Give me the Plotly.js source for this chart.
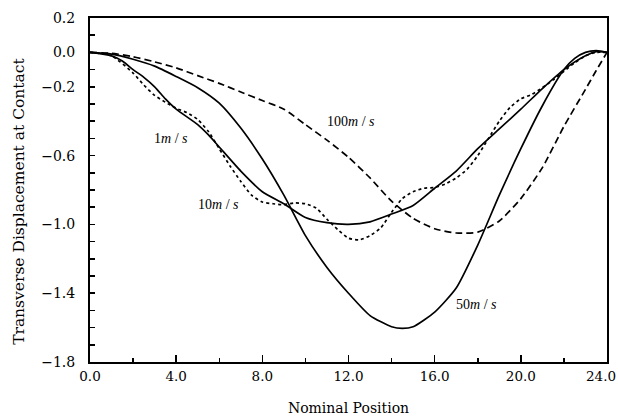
<!DOCTYPE html>
<html>
<head>
<meta charset="utf-8">
<script src="https://cdn.plot.ly/plotly-3.0.1.min.js"></script>
<style>html,body{margin:0;padding:0;background:#fff;}#chart{width:618px;height:420px;}</style>
</head>
<body>
<div id="chart"></div>
<script>
// 1 m/s (solid)
var x1 = [0, 1, 1.5, 2, 2.5, 3, 3.5, 4, 5, 5.5, 6, 7, 8, 9, 10, 11, 12, 13, 14, 15, 16, 17, 18, 19, 20, 21, 22, 23, 23.5, 24];
var y1 = [0, -0.02, -0.05, -0.10, -0.145, -0.20, -0.27, -0.33, -0.42, -0.48, -0.55, -0.69, -0.81, -0.88, -0.96, -0.99, -1.0, -0.985, -0.94, -0.89, -0.79, -0.69, -0.56, -0.445, -0.33, -0.21, -0.10, -0.02, 0.005, 0];
// 10 m/s (dotted)
var x10 = [0, 1, 2, 2.5, 3, 3.5, 4, 4.5, 5, 5.5, 6, 6.5, 7, 7.5, 8, 8.5, 9, 9.5, 10, 10.5, 11, 11.5, 12, 12.5, 13, 13.5, 14, 14.5, 15, 15.5, 16, 16.5, 17, 17.5, 18, 18.5, 19, 19.5, 20, 20.5, 21, 21.5, 22, 22.5, 23, 23.5, 24];
var y10 = [0, -0.02, -0.12, -0.19, -0.25, -0.29, -0.325, -0.35, -0.39, -0.46, -0.56, -0.66, -0.75, -0.83, -0.87, -0.88, -0.885, -0.875, -0.88, -0.905, -0.97, -1.03, -1.08, -1.09, -1.065, -1.02, -0.93, -0.85, -0.81, -0.79, -0.785, -0.765, -0.73, -0.68, -0.60, -0.50, -0.40, -0.32, -0.27, -0.245, -0.205, -0.16, -0.11, -0.06, -0.02, 0, 0];
// 50 m/s (solid)
var x50 = [0, 1, 2, 3, 4, 5, 6, 7, 8, 9, 10, 11, 12, 13, 14, 14.5, 15, 16, 17, 18, 19, 20, 21, 22, 22.5, 23, 23.5, 24];
var y50 = [0, -0.01, -0.04, -0.08, -0.14, -0.205, -0.295, -0.44, -0.62, -0.83, -1.065, -1.25, -1.40, -1.53, -1.595, -1.605, -1.595, -1.51, -1.37, -1.12, -0.83, -0.56, -0.31, -0.10, -0.035, 0.0, 0.01, 0];
// 100 m/s (dashed)
var x100 = [0, 1, 2, 3, 4, 5, 6, 7, 8, 9, 10, 11, 12, 13, 14, 15, 16, 17, 18, 19, 20, 21, 22, 23, 23.5, 24];
var y100 = [0, -0.005, -0.025, -0.055, -0.09, -0.135, -0.18, -0.23, -0.28, -0.33, -0.42, -0.51, -0.61, -0.73, -0.865, -0.965, -1.025, -1.05, -1.045, -0.98, -0.85, -0.67, -0.43, -0.215, -0.105, 0];

var yTickVals = [0.2, 0.1, 0.0, -0.1, -0.2, -0.3, -0.4, -0.5, -0.6, -0.7, -0.8, -0.9, -1.0, -1.1, -1.2, -1.3, -1.4, -1.5, -1.6, -1.7, -1.8];
var yTickText = ['0.2', '', '0.0', '', '\u22120.2', '', '', '', '\u22120.6', '', '', '', '\u22121.0', '', '', '', '\u22121.4', '', '', '', '\u22121.8'];
var xTickVals = [0, 4, 8, 12, 16, 20, 24];
var xTickText = ['0.0', '4.0', '8.0', '12.0', '16.0', '20.0', '24.0'];
var xTitle = 'Nominal Position';
var yTitle = 'Transverse Displacement at Contact';

var labels = [
  {x: 3.75, y: -0.50, text: '1<i>m</i> / <i>s</i>'},
  {x: 5.95, y: -0.885, text: '10<i>m</i> / <i>s</i>'},
  {x: 12.1, y: -0.40, text: '100<i>m</i> / <i>s</i>'},
  {x: 17.95, y: -1.465, text: '50<i>m</i> / <i>s</i>'}
];

var serif = 'DejaVu Serif, Liberation Serif, serif';
var serif2 = 'Liberation Serif, DejaVu Serif, serif';
var ln = {color: '#000', width: 1.7};
var traces = [
  {x: x1, y: y1, mode: 'lines', name: '1m/s', line: Object.assign({}, ln, {shape: 'spline', smoothing: 0.6})},
  {x: x10, y: y10, mode: 'lines', name: '10m/s', line: Object.assign({}, ln, {dash: 'dot', shape: 'spline', smoothing: 0.6})},
  {x: x50, y: y50, mode: 'lines', name: '50m/s', line: Object.assign({}, ln, {shape: 'spline', smoothing: 0.6})},
  {x: x100, y: y100, mode: 'lines', name: '100m/s', line: Object.assign({}, ln, {dash: '7px,4px', shape: 'spline', smoothing: 0.6})}
];

// the last x tick label sits flush against the right edge (as in the reference),
// so it is drawn right-anchored at its tick instead of centred
var lastIdx = xTickVals.length - 1;
var xTickTextAxis = xTickText.map(function (t, i) { return i === lastIdx ? '' : t; });

var annotations = labels.map(function (a) {
  return {x: a.x, y: a.y, xref: 'x', yref: 'y', text: a.text, showarrow: false,
    font: {family: serif2, size: 14, color: '#000'}};
});
annotations.push({x: xTickVals[lastIdx], y: 0, xref: 'x', yref: 'paper', text: xTickText[lastIdx],
  showarrow: false, xanchor: 'right', yanchor: 'top', xshift: 11, yshift: -4,
  font: {family: serif, size: 13.5, color: '#000'}});
annotations.push({x: -0.137, y: 0.466, xref: 'paper', yref: 'paper', text: yTitle, textangle: -90,
  showarrow: false, xanchor: 'center', yanchor: 'middle', font: {family: serif, size: 15.5, color: '#000'}});

var layout = {
  width: 618, height: 420,
  margin: {l: 90, r: 11, t: 18, b: 58},
  paper_bgcolor: '#fff', plot_bgcolor: '#fff',
  showlegend: false,
  font: {family: serif, size: 14, color: '#000'},
  xaxis: {
    range: [0, 24], showgrid: false, zeroline: false,
    showline: true, linecolor: '#000', linewidth: 2, mirror: true,
    ticks: 'inside', ticklen: 7, tickwidth: 1.5, tickcolor: '#000',
    tickmode: 'array', tickvals: xTickVals, ticktext: xTickTextAxis,
    ticklabelstandoff: 1,
    minor: {dtick: 2, ticks: 'inside', ticklen: 4, tickwidth: 1.5, tickcolor: '#000', showgrid: false},
    tickfont: {family: serif, size: 13.5},
    title: {text: xTitle, font: {family: serif, size: 14}, standoff: 20}
  },
  yaxis: {
    range: [-1.8, 0.2], showgrid: false, zeroline: false,
    showline: true, linecolor: '#000', linewidth: 2, mirror: true,
    ticks: 'inside', ticklen: 5, tickwidth: 1.5, tickcolor: '#000',
    tickmode: 'array', tickvals: yTickVals, ticktext: yTickText,
    ticklabelstandoff: 10,
    tickfont: {family: serif, size: 14}
  },
  annotations: annotations
};

Plotly.newPlot('chart', traces, layout, {displayModeBar: false, staticPlot: true});
</script>
</body>
</html>
